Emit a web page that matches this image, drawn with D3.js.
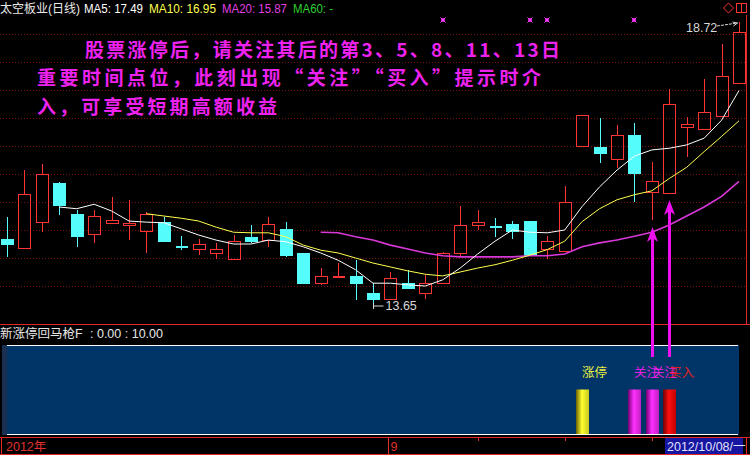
<!DOCTYPE html>
<html><head><meta charset="utf-8">
<script src="https://cdn.jsdelivr.net/npm/d3@7"></script>
<style>html,body{margin:0;padding:0;background:#000;overflow:hidden}svg{display:block}</style>
</head><body><svg id="c" width="750" height="455"></svg>
<script>
// ---------------- data ----------------
const dates = ["2012-08-02","2012-08-03","2012-08-06","2012-08-07","2012-08-08","2012-08-09","2012-08-10",
"2012-08-13","2012-08-14","2012-08-15","2012-08-16","2012-08-17","2012-08-20","2012-08-21","2012-08-22",
"2012-08-23","2012-08-24","2012-08-27","2012-08-28","2012-08-29","2012-08-30","2012-08-31",
"2012-09-03","2012-09-04","2012-09-05","2012-09-06","2012-09-07","2012-09-10","2012-09-11","2012-09-12",
"2012-09-13","2012-09-14","2012-09-17","2012-09-18","2012-09-19","2012-09-20","2012-09-21","2012-09-24",
"2012-09-25","2012-09-26","2012-09-27","2012-09-28","2012-10-08"];
const opens  = [14.84,14.68,15.14,15.84,15.29,14.93,15.13,15.09,14.98,15.14,14.71,14.66,14.59,14.48,14.88,14.82,15.02,14.59,14.05,14.16,14.18,13.88,13.77,14.05,13.88,14.05,14.59,15.09,15.07,15.11,15.16,14.66,14.63,16.50,16.48,16.27,16.70,15.68,15.66,16.84,16.80,17.04,17.63];
const highs  = [15.23,16.07,16.18,15.86,15.36,15.36,15.59,15.54,15.32,15.23,14.89,14.84,14.77,14.91,15.09,15.23,15.14,14.59,14.32,14.41,14.46,14.05,14.25,14.29,14.20,14.61,15.43,15.36,15.21,15.16,15.16,14.89,15.79,17.05,17.00,16.88,16.91,16.21,17.52,17.02,17.70,18.32,18.72];
const lows   = [14.52,14.66,14.96,15.27,14.70,14.77,15.13,14.82,14.59,14.80,14.64,14.55,14.48,14.48,14.77,14.70,14.52,14.05,14.02,14.16,13.75,13.65,13.77,13.95,13.77,14.05,14.52,15.00,14.88,14.84,14.54,14.48,14.63,16.50,16.20,16.11,15.50,15.18,15.66,16.30,16.80,17.04,17.63];
const closes = [14.75,15.64,16.00,15.45,14.89,15.25,15.18,15.13,15.29,14.80,14.70,14.75,14.66,14.80,14.80,15.11,14.55,14.05,14.18,14.18,14.05,13.77,14.14,13.96,14.05,14.59,15.09,15.14,15.05,14.98,14.55,14.80,15.50,17.05,16.38,16.70,16.02,15.88,17.25,16.89,17.11,17.75,18.54];
const ma5  = [null,null,null,15.41,15.38,15.46,15.34,15.16,15.14,15.13,15.02,14.91,14.82,14.75,14.75,14.82,14.79,14.70,14.59,14.46,14.29,14.05,14.05,14.02,14.00,14.11,14.32,14.57,14.80,15.00,14.96,14.95,15.00,15.42,15.77,16.07,16.32,16.43,16.46,16.52,16.64,16.96,17.49];
const ma10 = [null,null,null,null,null,null,null,null,15.29,15.25,15.21,15.16,15.05,14.96,14.95,14.95,14.88,14.73,14.64,14.59,14.50,14.41,14.34,14.27,14.21,14.18,14.25,14.32,14.38,14.46,14.55,14.65,14.80,15.15,15.38,15.54,15.63,15.70,15.92,16.12,16.40,16.67,16.95];
const ma20 = [null,null,null,null,null,null,null,null,null,null,null,null,null,null,null,null,null,null,14.96,14.95,14.88,14.82,14.73,14.66,14.59,14.54,14.52,14.52,14.52,14.52,14.54,14.54,14.57,14.70,14.77,14.82,14.89,14.96,15.09,15.25,15.41,15.60,15.87];
const gridLevels = [14.0,14.5,15.0,15.5,16.0,16.5,17.0,17.5,18.0,18.5];
const headerLabels = ["太空板业(日线)","MA5: 17.49","MA10: 16.95","MA20: 15.87","MA60: -"];
const noteLines = ["股票涨停后，请关注其后的第3、5、8、11、13日","重要时间点位，此刻出现“关注”“买入”提示时介","入，可享受短期高额收益"];
const markIdx = [25,30,31,36];           // small purple markers on top row
const sigIdx = [33,36,37,38];
const sigLabel = ["涨停","关注","关注","买入"];
const sigValue = [5,5,5,5];
const arrowIdx = [37,38];
const indicatorTitle = "新涨停回马枪F";
const indicatorRange = ": 0.00 : 10.00";
const minorTickIdx = [27,32,37];
const cursorLabel = "2012/10/08/一";

// ---------------- setup ----------------
const svg = d3.select("#c");
svg.append("rect").attr("width",750).attr("height",455).attr("fill","#000");
const n = dates.length;
const x = d3.scaleLinear().domain([0, n-1]).range([7, 739]);
const y = d3.scaleLinear().domain([14, 18.5]).range([286, 34]);
const yInd = d3.scaleLinear().domain([0, 10]).range([434, 345]);
const cx = i => Math.round(x(i)) + 0.5;
const RED = "#ff3535", CYAN = "#54fcfc";
const sans = "'Liberation Sans','Noto Sans CJK SC',sans-serif";
const cjk = "'Noto Sans CJK SC',sans-serif";

// grid
svg.append("g").selectAll("line").data(gridLevels).join("line")
  .attr("x1",0).attr("x2",745).attr("y1",d=>Math.round(y(d))+0.5).attr("y2",d=>Math.round(y(d))+0.5)
  .attr("stroke","#7a1414").attr("stroke-dasharray","1,2");

// frame lines
const frame = svg.append("g").attr("stroke","#e02828").attr("stroke-width",1).attr("shape-rendering","crispEdges");
frame.append("line").attr("x1",746.5).attr("x2",746.5).attr("y1",15).attr("y2",324);
frame.append("line").attr("x1",0).attr("x2",750).attr("y1",324.5).attr("y2",324.5);
frame.append("line").attr("x1",0).attr("x2",750).attr("y1",437.5).attr("y2",437.5);
frame.append("line").attr("x1",0).attr("x2",750).attr("y1",454.5).attr("y2",454.5);
frame.append("line").attr("x1",1.5).attr("x2",1.5).attr("y1",437).attr("y2",455);
frame.append("line").attr("x1",746.5).attr("x2",746.5).attr("y1",437).attr("y2",455);

// header
const hdrX = [0,84,149,222,293];
const hdrW = [80,59,67,65,40];
const hdrC = ["#e8e8e8","#ffffff","#ffff50","#e040e0","#30d030"];
svg.append("g").selectAll("text").data(headerLabels).join("text")
  .attr("x",(d,i)=>hdrX[i]).attr("y",13).attr("fill",(d,i)=>hdrC[i])
  .attr("textLength",(d,i)=>hdrW[i]).attr("lengthAdjust","spacingAndGlyphs")
  .attr("font-family",sans).attr("font-size",12.5).text(d=>d);

// top-right icons
svg.append("path").attr("d","M728.5,3 L733.5,8 L728.5,13 L723.5,8 Z").attr("fill","none").attr("stroke",RED);
svg.append("rect").attr("x",736.5).attr("y",3.5).attr("width",5).attr("height",9).attr("fill","none").attr("stroke",RED);
svg.append("rect").attr("x",741.5).attr("y",3.5).attr("width",5).attr("height",9).attr("fill","none").attr("stroke",RED);

// markers
const mk = svg.append("g");
markIdx.forEach(i=>{
  const px = Math.round(x(i)), py = 20;
  mk.append("rect").attr("x",px-2).attr("y",py-2).attr("width",4).attr("height",4).attr("fill","#c020c0");
  mk.append("path").attr("d",`M${px-2.5},${py-2.5}L${px+2.5},${py+2.5}M${px+2.5},${py-2.5}L${px-2.5},${py+2.5}`)
    .attr("stroke","#ff40ff").attr("stroke-width",1);
});

// annotation text
const noteX = [85,37,37], noteY=[57,85,114], noteW=[475,504,240];
svg.append("g").selectAll("text").data(noteLines).join("text")
  .attr("x",(d,i)=>noteX[i]).attr("y",(d,i)=>noteY[i])
  .attr("textLength",(d,i)=>noteW[i]).attr("lengthAdjust","spacing")
  .attr("fill","#ee22ee").attr("font-family",cjk).attr("font-weight","bold").attr("font-size",19)
  .text(d=>d);

// candles
const cg = svg.append("g").attr("shape-rendering","crispEdges");
d3.range(n).forEach(i=>{
  const o=opens[i], c=closes[i], h=highs[i], l=lows[i];
  const up = c >= o;
  const col = up ? RED : CYAN;
  const px = cx(i);
  const top = Math.round(y(Math.max(o,c))), bot = Math.round(y(Math.min(o,c)));
  const yh = Math.round(y(h)), yl = Math.round(y(l));
  if (yh < top) cg.append("line").attr("x1",px).attr("x2",px).attr("y1",yh).attr("y2",top).attr("stroke",col);
  if (yl > bot) cg.append("line").attr("x1",px).attr("x2",px).attr("y1",bot).attr("y2",yl).attr("stroke",col);
  if (bot - top < 2) {
    cg.append("line").attr("x1",px-6).attr("x2",px+6).attr("y1",top+0.5).attr("y2",top+0.5).attr("stroke",col);
    if (bot>top) cg.append("line").attr("x1",px-6).attr("x2",px+6).attr("y1",bot+0.5).attr("y2",bot+0.5).attr("stroke",col);
  } else if (up) {
    cg.append("rect").attr("x",px-6).attr("y",top+0.5).attr("width",12).attr("height",bot-top)
      .attr("fill","none").attr("stroke",col).attr("stroke-width",1);
  } else {
    cg.append("rect").attr("x",px-6.5).attr("y",top).attr("width",13).attr("height",bot-top+1).attr("fill",col);
  }
});

// MA lines (drawn over the candles)
function maLine(arr,color,w){
  const line = d3.line().defined(d=>d!=null).x((d,i)=>x(i)).y(d=>y(d));
  svg.append("path").datum(arr).attr("d",line).attr("fill","none").attr("stroke",color).attr("stroke-width",w);
}
maLine(ma20,"#d838d8",1.6);
maLine(ma10,"#ffff50",1);
maLine(ma5,"#ffffff",1);

// high / low labels
const hiI = d3.maxIndex(highs), loI = d3.minIndex(lows);
const hy = Math.round(y(highs[hiI]));
svg.append("text").attr("x",686).attr("y",32).attr("fill","#d8d8d8").attr("font-family",sans).attr("font-size",12.5)
  .text(highs[hiI].toFixed(2));
svg.append("path").attr("d",`M717,26 L${cx(hiI)-2},${hy+1}`).attr("stroke","#d8d8d8").attr("fill","none").attr("stroke-dasharray","3,1");
svg.append("path").attr("d",`M${cx(hiI)-7},${hy} L${cx(hiI)-2},${hy+1} L${cx(hiI)-6},${hy+4}`).attr("stroke","#d8d8d8").attr("fill","none");
const lx = cx(loI), ly = Math.round(y(lows[loI]));
svg.append("path").attr("d",`M${lx},${ly-3} L${lx},${ly+3} M${lx},${ly} L${lx+10},${ly}`).attr("stroke","#d8d8d8").attr("fill","none");
svg.append("text").attr("x",lx+12).attr("y",ly+4).attr("fill","#d8d8d8").attr("font-family",sans).attr("font-size",12.5)
  .text(lows[loI].toFixed(2));

// ---------------- indicator panel ----------------
svg.append("text").attr("x",0).attr("y",338).attr("fill","#e8e8e8").attr("font-family",sans).attr("font-size",12.5).text(indicatorTitle);
svg.append("text").attr("x",90).attr("y",338).attr("fill","#e8e8e8").attr("font-family",sans).attr("font-size",12.5).text(indicatorRange);
svg.append("rect").attr("x",2).attr("y",345).attr("width",737).attr("height",90).attr("fill","#023567");
svg.append("rect").attr("x",2).attr("y",345).attr("width",5).attr("height",90).attr("fill","#1a3050");
svg.append("line").attr("x1",7).attr("x2",738).attr("y1",345.5).attr("y2",345.5).attr("stroke","#fff");
svg.append("line").attr("x1",7).attr("x2",738).attr("y1",434.5).attr("y2",434.5).attr("stroke","#fff");

const defs = svg.append("defs");
const gradCols = {"涨停":["#6a6000","#ffff30","#c8c820"],"关注":["#700070","#ff30ff","#c020c0"],"买入":["#700000","#ff1010","#c00000"]};
const txtCols = {"涨停":"#e8f040","关注":"#e020e0","买入":"#e02020"};
const gKeys = Object.keys(gradCols);
gKeys.forEach((k,j)=>{
  const g = defs.append("linearGradient").attr("id","g"+j).attr("x1","0").attr("x2","1").attr("y1","0").attr("y2","0");
  g.append("stop").attr("offset","0%").attr("stop-color",gradCols[k][0]);
  g.append("stop").attr("offset","45%").attr("stop-color",gradCols[k][1]);
  g.append("stop").attr("offset","100%").attr("stop-color",gradCols[k][2]);
});
sigIdx.forEach((i,k)=>{
  const px = Math.round(x(i));
  svg.append("rect").attr("x",px-6).attr("y",yInd(sigValue[k])).attr("width",13).attr("height",yInd(0)-yInd(sigValue[k]))
    .attr("fill",`url(#g${gKeys.indexOf(sigLabel[k])})`);
});
sigIdx.forEach((i,k)=>{
  svg.append("text").attr("x",Math.round(x(i))).attr("y",377).attr("fill",txtCols[sigLabel[k]])
    .attr("font-family",cjk).attr("font-size",12.5).text(sigLabel[k]);
});

// arrows
arrowIdx.forEach(i=>{
  const px = cx(i), tip = Math.round(y(lows[i])) + 7;
  svg.append("line").attr("x1",px).attr("x2",px).attr("y1",357).attr("y2",tip+10).attr("stroke","#ee10ee").attr("stroke-width",3);
  svg.append("path").attr("d",`M${px},${tip} L${px+5.5},${tip+15} L${px},${tip+11} L${px-5.5},${tip+15} Z`).attr("fill","#ee10ee");
});

// ---------------- time axis ----------------
const ax = svg.append("g");
ax.append("text").attr("x",6).attr("y",451).attr("fill","#e03030").attr("font-family",sans).attr("font-size",12.5).text(dates[0].slice(0,4)+"年");
const monthStarts = d3.range(1,n).filter(i=>dates[i].slice(5,7)!==dates[i-1].slice(5,7) && dates[i].slice(0,4)===dates[i-1].slice(0,4) && i<n-1);
monthStarts.forEach(i=>{
  const px = Math.round(x(i)) - 1.5;
  ax.append("line").attr("x1",px).attr("x2",px).attr("y1",437).attr("y2",455).attr("stroke","#e03030");
  ax.append("text").attr("x",px+2).attr("y",451).attr("fill","#e03030").attr("font-family",sans).attr("font-size",12.5).text(+dates[i].slice(5,7));
});
minorTickIdx.forEach(i=>{
  const px = Math.round(x(i)) + 0.5;
  ax.append("line").attr("x1",px).attr("x2",px).attr("y1",438).attr("y2",441).attr("stroke","#e03030");
});
ax.append("rect").attr("x",665).attr("y",438).attr("width",78).attr("height",16).attr("fill","#1616a0");
ax.append("text").attr("x",667).attr("y",451).attr("fill","#e0e0ff").attr("font-family",sans).attr("font-size",12.5).text(cursorLabel);
</script></body></html>
